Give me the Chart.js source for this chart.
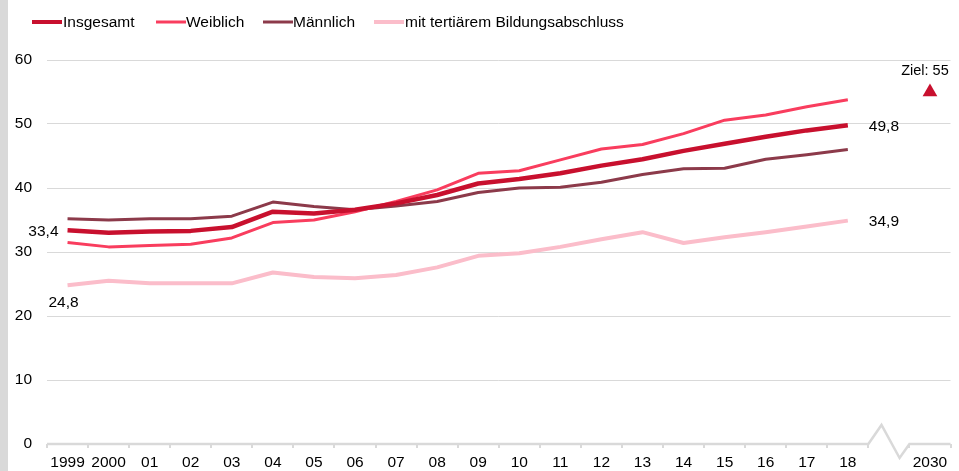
<!DOCTYPE html>
<html><head><meta charset="utf-8">
<script src="https://cdn.jsdelivr.net/npm/chart.js@4/dist/chart.umd.min.js"></script>
<style>html,body{margin:0;padding:0;background:#fff;}#wrap{width:959px;height:471px;position:relative;}</style>
</head><body><div id="wrap"><canvas id="c"></canvas></div>
<script>
const categories = ['1999','2000','01','02','03','04','05','06','07','08','09','10','11','12','13','14','15','16','17','18','','2030'];
const insgesamt = [33.4,33.0,33.2,33.3,33.9,36.3,36.0,36.6,37.6,38.9,40.7,41.4,42.3,43.5,44.5,45.8,46.9,48.0,49.0,49.8,null,null];
const weiblich  = [31.5,30.8,31.0,31.2,32.2,34.6,35.0,36.3,37.9,39.7,42.3,42.7,44.4,46.1,46.8,48.5,50.6,51.4,52.7,53.8,null,null];
const maennlich = [35.2,35.0,35.2,35.2,35.6,37.8,37.1,36.6,37.2,37.9,39.3,40.0,40.1,40.9,42.1,43.0,43.1,44.5,45.2,46.0,null,null];
const tertiaer  = [24.8,25.5,25.1,25.1,25.1,26.8,26.1,25.9,26.4,27.6,29.4,29.8,30.8,32.0,33.1,31.4,32.3,33.1,34.0,34.9,null,null];
const ziel      = [null,null,null,null,null,null,null,null,null,null,null,null,null,null,null,null,null,null,null,null,null,55];
const yTicks = [0,10,20,30,40,50,60];
const seriesNames = ['Insgesamt','Weiblich','Männlich','mit tertiärem Bildungsabschluss'];

const C_INS = '#c8102e', C_W = '#f93d5e', C_M = '#8c3a4a', C_T = '#fbbdca';
const FONT = '"Liberation Sans", Arial, sans-serif';

const decor = {
  id: 'decor',
  beforeDraw(chart) {
    const ctx = chart.ctx;
    ctx.save();
    ctx.fillStyle = '#fff';
    ctx.fillRect(0, 0, chart.width, chart.height);
    ctx.fillStyle = '#d9d9d9';
    ctx.fillRect(0, 0, 8, chart.height);
    const xs = chart.scales.x, ys = chart.scales.y;
    const y0 = ys.getPixelForValue(0);
    const b0 = (xs.getPixelForValue(19) + xs.getPixelForValue(20)) / 2;
    const b1 = (xs.getPixelForValue(20) + xs.getPixelForValue(21)) / 2;
    const w = b1 - b0;
    ctx.strokeStyle = '#d9d9d9';
    ctx.lineWidth = 2.5;
    ctx.beginPath();
    ctx.moveTo(chart.chartArea.left, y0);
    ctx.lineTo(b0, y0);
    ctx.lineTo(b0 + w * 0.32, y0 - 19);
    ctx.lineTo(b0 + w * 0.76, y0 + 14);
    ctx.lineTo(b1, y0);
    ctx.lineTo(chart.chartArea.right, y0);
    ctx.stroke();
    ctx.restore();
  },
  afterDraw(chart) {
    const ctx = chart.ctx;
    ctx.save();
    const items = [
      {x: 32, tx: 63, c: C_INS, lw: 4},
      {x: 156, tx: 186, c: C_W, lw: 3},
      {x: 263, tx: 293, c: C_M, lw: 3},
      {x: 374, tx: 405, c: C_T, lw: 4}
    ];
    ctx.font = '15.5px ' + FONT;
    ctx.textBaseline = 'middle';
    ctx.textAlign = 'left';
    items.forEach((it, i) => {
      ctx.strokeStyle = it.c;
      ctx.lineWidth = it.lw;
      ctx.lineCap = 'butt';
      ctx.beginPath();
      ctx.moveTo(it.x, 22);
      ctx.lineTo(it.x + 30, 22);
      ctx.stroke();
      ctx.fillStyle = '#000';
      ctx.fillText(seriesNames[i], it.tx, 23);
    });
    const pt = (di, idx) => chart.getDatasetMeta(di).data[idx];
    ctx.fillStyle = '#000';
    ctx.font = '15.5px ' + FONT;
    let p = pt(0, 0);
    ctx.textAlign = 'right';
    ctx.fillText(String(insgesamt[0]).replace('.', ','), p.x - 9, p.y + 1);
    p = pt(3, 0);
    ctx.textAlign = 'center';
    ctx.fillText(String(tertiaer[0]).replace('.', ','), p.x - 4, p.y + 17);
    p = pt(0, 19);
    ctx.textAlign = 'left';
    ctx.fillText(String(insgesamt[19]).replace('.', ','), p.x + 21, p.y + 1);
    p = pt(3, 19);
    ctx.fillText(String(tertiaer[19]).replace('.', ','), p.x + 21, p.y + 1);
    p = pt(4, 21);
    ctx.textAlign = 'center';
    ctx.font = '14.5px ' + FONT;
    ctx.fillText('Ziel: ' + ziel[21], p.x - 5, 71);
    ctx.restore();
  }
};

new Chart(document.getElementById('c'), {
  type: 'line',
  data: {
    labels: categories,
    datasets: [
      {label: seriesNames[0], data: insgesamt, borderColor: C_INS, borderWidth: 4.5},
      {label: seriesNames[1], data: weiblich, borderColor: C_W, borderWidth: 3},
      {label: seriesNames[2], data: maennlich, borderColor: C_M, borderWidth: 3},
      {label: seriesNames[3], data: tertiaer, borderColor: C_T, borderWidth: 4},
      {label: 'Ziel', data: ziel, showLine: false, pointStyle: 'triangle', pointRadius: 8.5,
       pointBackgroundColor: C_INS, pointBorderWidth: 0, borderColor: C_INS}
    ]
  },
  options: {
    responsive: true,
    maintainAspectRatio: false,
    animation: false,
    devicePixelRatio: 1,
    elements: {
      line: {tension: 0, fill: false, borderJoinStyle: 'round', borderCapStyle: 'butt'},
      point: {radius: 0, hoverRadius: 0}
    },
    layout: {padding: {left: 0, right: 6, top: 60, bottom: 0}},
    plugins: {legend: {display: false}, tooltip: {enabled: false}},
    scales: {
      x: {
        type: 'category',
        offset: true,
        grid: {offset: true, drawOnChartArea: false, drawTicks: true, tickLength: 4, color: '#d9d9d9', lineWidth: 2},
        border: {display: false},
        ticks: {autoSkip: false, maxRotation: 0, minRotation: 0, padding: 5, color: '#000', font: {size: 15.5, family: FONT}},
        afterFit(s) { s.height = 27; }
      },
      y: {
        min: 0, max: 60,
        afterBuildTicks(s) { s.ticks = yTicks.map(v => ({value: v})); },
        grid: {drawTicks: false, color: (c) => c.tick && c.tick.value === 0 ? 'rgba(0,0,0,0)' : '#d9d9d9', lineWidth: 1},
        border: {display: false},
        ticks: {padding: 15, color: '#000', font: {size: 15.5, family: FONT}},
        afterFit(s) { s.width = 47; }
      }
    }
  },
  plugins: [decor]
});
</script>
</body></html>
